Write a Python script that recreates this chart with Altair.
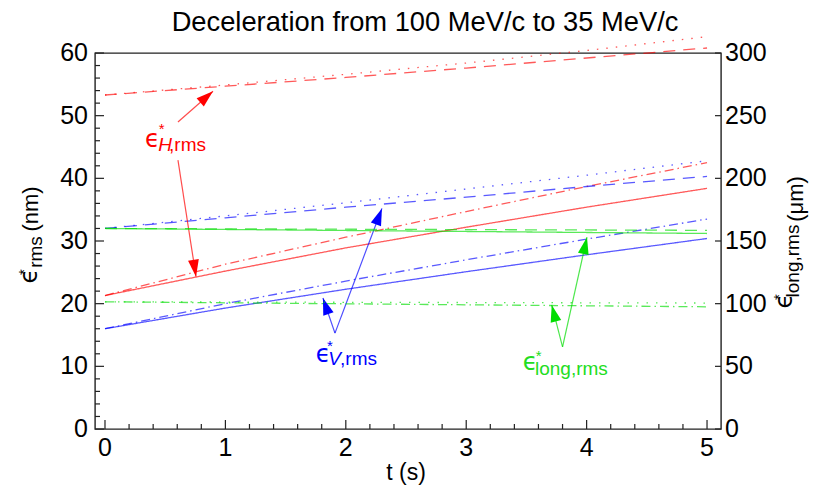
import math
import altair as alt
import pandas as pd

# ---------------- data ----------------
t = [0, 1, 2, 3, 4, 5]

# horizontal emittance eps*_H,rms (nm)
h_dotted = [53.3, 54.9, 56.6, 58.4, 60.4, 62.6]
h_dashed = [53.3, 54.7, 56.1, 57.6, 59.2, 60.8]
h_solid = [21.3, 25.2, 28.9, 32.2, 35.4, 38.4]
h_dotdash = [21.3, 26.3, 30.6, 34.7, 38.7, 42.5]
# vertical emittance eps*_V,rms (nm)
v_dotted = [32.0, 34.0, 36.1, 38.3, 40.5, 42.8]
v_dashed = [32.0, 33.7, 35.4, 37.0, 38.7, 40.3]
v_dotdash = [16.0, 20.0, 23.6, 27.0, 30.3, 33.5]
v_solid = [16.0, 19.3, 22.3, 25.1, 27.8, 30.4]
# longitudinal emittance eps*_long,rms (um)
l_solid = [160.0, 159.2, 158.4, 157.6, 156.8, 156.0]
l_dashed = [160.0, 159.7, 159.4, 159.1, 158.8, 158.5]
l_dotted = [101.5, 101.3, 101.1, 100.9, 100.7, 100.5]
l_dotdash = [101.5, 100.7, 99.9, 99.1, 98.3, 97.5]

# tick values / tick labels
x_major = [0, 1, 2, 3, 4, 5]
x_labels = ["0", "1", "2", "3", "4", "5"]
x_minor = [0.2, 0.4, 0.6, 0.8, 1.2, 1.4, 1.6, 1.8, 2.2, 2.4, 2.6, 2.8,
           3.2, 3.4, 3.6, 3.8, 4.2, 4.4, 4.6, 4.8]
yl_major = [0, 10, 20, 30, 40, 50, 60]
yl_labels = ["0", "10", "20", "30", "40", "50", "60"]
yl_minor = [2, 4, 6, 8, 12, 14, 16, 18, 22, 24, 26, 28, 32, 34, 36, 38,
            42, 44, 46, 48, 52, 54, 56, 58]
yr_major = [0, 50, 100, 150, 200, 250, 300]
yr_labels = ["0", "50", "100", "150", "200", "250", "300"]

# annotation arrows (data coordinates of the left axis)
arrow_family = ["H", "H", "V", "V", "long", "long"]
arrow_t0 = [0.606, 0.606, 1.910, 1.910, 3.800, 3.800]
arrow_v0 = [49.0, 42.9, 15.3, 15.3, 13.1, 13.1]
arrow_t1 = [0.897, 0.756, 2.300, 1.810, 4.003, 3.710]
arrow_v1 = [53.9, 24.3, 35.2, 20.9, 30.6, 19.8]

# annotation labels
lab_family = ["H", "V", "long"]
eps_t = [0.394, 1.811, 3.530]
eps_v = [45.0, 10.7, 9.4]
star_t = [0.471, 1.869, 3.602]
star_v = [47.0, 12.4, 10.8]
sub_italic = ["H", "V", ""]
sub_italic_t = [0.443, 1.855, 3.571]
sub_rest = [",rms", ",rms", "long,rms"]
sub_rest_t = [0.532, 1.952, 3.571]
sub_v = [44.4, 10.2, 8.6]

# ---------------- layout / style ----------------
W, H = 626, 376
X_DOMAIN = [-0.083, 5.116]
YL_DOMAIN = [0, 60]
YR_DOMAIN = [0, 300]
FAMILIES = ["H", "V", "long"]
FAMILY_COLORS = ["#ff0000", "#0000ff", "#00dd00"]
TEXT_COLORS = {"H": "#ff0000", "V": "#0000ff", "long": "#22dd22"}
STYLES = ["solid", "dashed", "dotted", "dotdash"]
DASHES = [[1, 0], [12, 8], [1.5, 8], [9, 4, 1.5, 4]]
FONT = "Liberation Sans"
EPS_FONT = "DejaVu Sans"
LABEL_SIZE = 25
TICK_COLOR = "#222222"

rows_left, rows_right = [], []
def add(rows, fam, style, values):
    for ti, vi in zip(t, values):
        rows.append({"t": ti, "v": vi, "family": fam, "style": style,
                     "name": fam + "_" + style})

add(rows_left, "H", "dotted", h_dotted)
add(rows_left, "H", "dashed", h_dashed)
add(rows_left, "H", "solid", h_solid)
add(rows_left, "H", "dotdash", h_dotdash)
add(rows_left, "V", "dotted", v_dotted)
add(rows_left, "V", "dashed", v_dashed)
add(rows_left, "V", "dotdash", v_dotdash)
add(rows_left, "V", "solid", v_solid)
add(rows_right, "long", "solid", l_solid)
add(rows_right, "long", "dashed", l_dashed)
add(rows_right, "long", "dotted", l_dotted)
add(rows_right, "long", "dotdash", l_dotdash)
df_left = pd.DataFrame(rows_left)
df_right = pd.DataFrame(rows_right)

# arrow heads: rotation from the pixel direction of each arrow
PX_T = W / (X_DOMAIN[1] - X_DOMAIN[0])
PX_V = H / (YL_DOMAIN[1] - YL_DOMAIN[0])
angles = []
for a, b, c, d in zip(arrow_t0, arrow_v0, arrow_t1, arrow_v1):
    dx = (c - a) * PX_T
    dy = -(d - b) * PX_V
    angles.append(math.degrees(math.atan2(dx, -dy)) % 360)
df_arrows = pd.DataFrame({"family": arrow_family, "t0": arrow_t0, "v0": arrow_v0,
                          "t1": arrow_t1, "v1": arrow_v1, "angle": angles})

df_eps = pd.DataFrame({"family": lab_family, "t": eps_t, "v": eps_v})
df_star = pd.DataFrame({"family": lab_family, "t": star_t, "v": star_v})
df_sub_it = pd.DataFrame({"family": lab_family, "txt": sub_italic,
                          "t": sub_italic_t, "v": sub_v})
df_sub = pd.DataFrame({"family": lab_family, "txt": sub_rest,
                       "t": sub_rest_t, "v": sub_v})
for d in (df_eps, df_star, df_sub_it, df_sub):
    d["tc"] = d["family"].map(TEXT_COLORS)

xs = alt.Scale(domain=X_DOMAIN, nice=False, zero=False)
yls = alt.Scale(domain=YL_DOMAIN, nice=False, zero=False)
yrs = alt.Scale(domain=YR_DOMAIN, nice=False, zero=False)

def X(field):
    return alt.X(field, scale=xs, axis=None)
def YL(field):
    return alt.Y(field, scale=yls, axis=None)
def YR(field):
    return alt.Y(field, scale=yrs, axis=None)

color_enc = alt.Color("family:N", scale=alt.Scale(domain=FAMILIES, range=FAMILY_COLORS),
                      legend=None)
dash_enc = alt.StrokeDash("style:N", scale=alt.Scale(domain=STYLES, range=DASHES),
                          legend=None)

# ----- left (nm) layer -----
lines_left = alt.Chart(df_left).mark_line(strokeWidth=1.3, opacity=0.65).encode(
    x=X("t:Q"), y=YL("v:Q"), color=color_enc, strokeDash=dash_enc, detail="name:N")

shafts = alt.Chart(df_arrows).mark_rule(strokeWidth=1.2, opacity=0.7).encode(
    x=X("t0:Q"), y=YL("v0:Q"), x2="t1:Q", y2="v1:Q", color=color_enc)

HEAD = "M0,0L0.32,1L-0.32,1Z"
heads = alt.Chart(df_arrows).mark_point(shape=HEAD, filled=True, size=1156,
                                        opacity=1, strokeWidth=0).encode(
    x=X("t1:Q"), y=YL("v1:Q"), angle=alt.Angle("angle:Q", scale=None), color=color_enc)

eps_txt = alt.Chart(df_eps).mark_text(text="ϵ", font=EPS_FONT, fontSize=24,
                                      align="center", baseline="alphabetic").encode(
    x=X("t:Q"), y=YL("v:Q"), color=alt.Color("tc:N", scale=None))
star_txt = alt.Chart(df_star).mark_text(text="*", font=FONT, fontSize=15,
                                        align="center", baseline="alphabetic").encode(
    x=X("t:Q"), y=YL("v:Q"), color=alt.Color("tc:N", scale=None))
sub_it_txt = alt.Chart(df_sub_it).mark_text(font=FONT, fontSize=19, fontStyle="italic",
                                            align="left", baseline="alphabetic").encode(
    x=X("t:Q"), y=YL("v:Q"), text="txt:N", color=alt.Color("tc:N", scale=None))
sub_txt = alt.Chart(df_sub).mark_text(font=FONT, fontSize=19,
                                      align="left", baseline="alphabetic").encode(
    x=X("t:Q"), y=YL("v:Q"), text="txt:N", color=alt.Color("tc:N", scale=None))

df_xmaj = pd.DataFrame({"t": x_major, "lab": x_labels})
df_xmin = pd.DataFrame({"t": x_minor})
df_ylmaj = pd.DataFrame({"v": yl_major, "lab": yl_labels})
df_ylmin = pd.DataFrame({"v": yl_minor})
df_yrmaj = pd.DataFrame({"v": yr_major, "lab": yr_labels})

xt_major = alt.Chart(df_xmaj).mark_rule(color=TICK_COLOR, strokeWidth=1.2).encode(
    x=X("t:Q"), y=alt.value(H), y2=alt.value(H - 9))
xt_minor = alt.Chart(df_xmin).mark_rule(color=TICK_COLOR, strokeWidth=1.2).encode(
    x=X("t:Q"), y=alt.value(H), y2=alt.value(H - 5))
yt_major = alt.Chart(df_ylmaj).mark_rule(color=TICK_COLOR, strokeWidth=1.2).encode(
    y=YL("v:Q"), x=alt.value(0), x2=alt.value(9))
yt_minor = alt.Chart(df_ylmin).mark_rule(color=TICK_COLOR, strokeWidth=1.2).encode(
    y=YL("v:Q"), x=alt.value(0), x2=alt.value(5))

x_ticklab = alt.Chart(df_xmaj).mark_text(font=FONT, fontSize=LABEL_SIZE, color="black",
                                         align="center", baseline="top").encode(
    x=X("t:Q"), y=alt.value(H + 7), text="lab:N")
yl_ticklab = alt.Chart(df_ylmaj).mark_text(font=FONT, fontSize=LABEL_SIZE, color="black",
                                           align="right", baseline="middle").encode(
    y=YL("v:Q"), x=alt.value(-7), text="lab:N")

one = alt.Data(values=[{}])
def label(text, x, y, size, angle=0, font=FONT, align="center"):
    kw = dict(text=text, font=font, fontSize=size, align=align,
              baseline="alphabetic", color="black")
    if angle:
        kw["angle"] = angle
    return alt.Chart(one).mark_text(**kw).encode(x=alt.value(x), y=alt.value(y))

title = label("Deceleration from 100 MeV/c to 35 MeV/c", 330, -22, 27.3)
xtitle = label("t (s)", 311, 427, 23)
ltitle = [label("ϵ", -58.3, 223, 24, 270, EPS_FONT),
          label("*", -65.6, 219, 15, 270),
          label("rms", -53.3, 199, 19, 270),
          label("(nm)", -57.5, 156, 22, 270)]
rtitle = [label("ϵ", 696.7, 248, 24, 270, EPS_FONT),
          label("*", 689.4, 244, 15, 270),
          label("long,rms", 704, 208, 19, 270),
          label("(μm)", 707.5, 146, 22, 270)]

left = alt.layer(lines_left, shafts, heads, eps_txt, star_txt, sub_it_txt, sub_txt,
                 xt_major, xt_minor, yt_major, yt_minor, x_ticklab, yl_ticklab,
                 title, xtitle, *ltitle, *rtitle)

# ----- right (um) layer -----
lines_right = alt.Chart(df_right).mark_line(strokeWidth=1.3, opacity=0.65).encode(
    x=X("t:Q"), y=YR("v:Q"), color=color_enc, strokeDash=dash_enc, detail="name:N")
yrt = alt.Chart(df_yrmaj).mark_rule(color=TICK_COLOR, strokeWidth=1.2).encode(
    y=YR("v:Q"), x=alt.value(W), x2=alt.value(W - 6))
yr_ticklab = alt.Chart(df_yrmaj).mark_text(font=FONT, fontSize=LABEL_SIZE, color="black",
                                           align="left", baseline="middle").encode(
    y=YR("v:Q"), x=alt.value(W + 4), text="lab:N")
right = alt.layer(lines_right, yrt, yr_ticklab)

chart = alt.layer(left, right).resolve_scale(y="independent").properties(
    width=W, height=H,
    autosize=alt.AutoSizeParams(type="none"),
    padding={"left": 95, "top": 53, "right": 815 - 95 - W, "bottom": 495 - 53 - H},
    background="white",
).configure_view(stroke="#222222", strokeWidth=1.4)

chart.save("out.html", embed_options={"renderer": "svg", "actions": False})
